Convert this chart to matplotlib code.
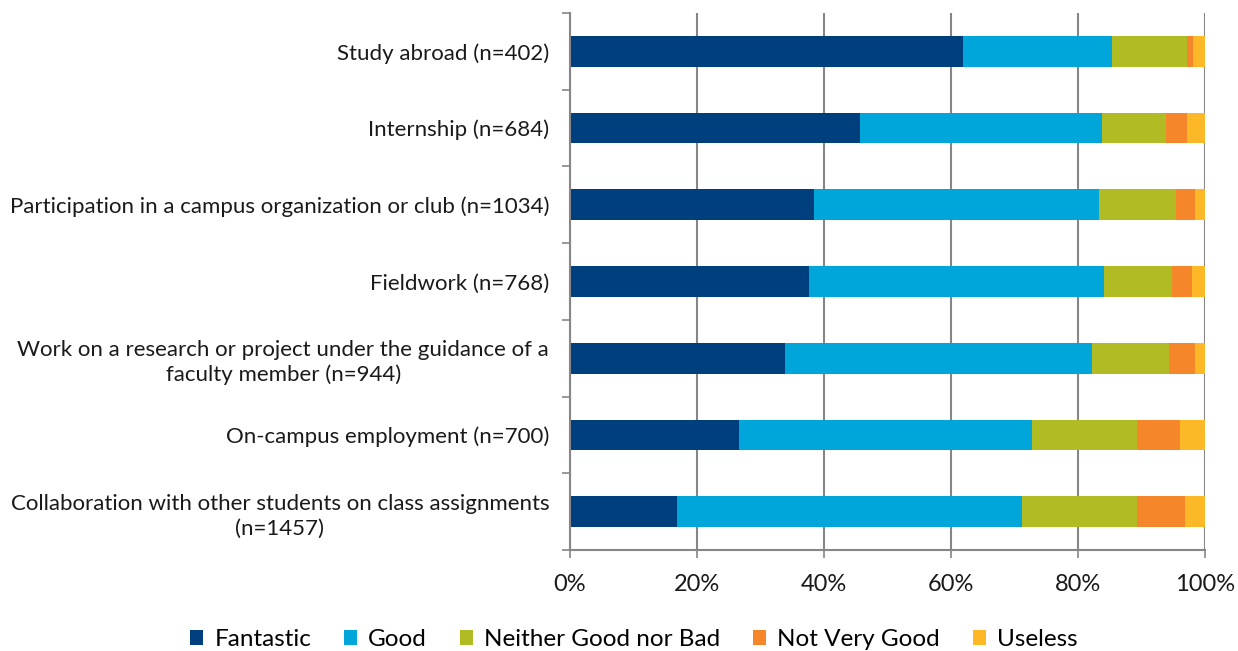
import numpy as np
import matplotlib
matplotlib.use("Agg")
import matplotlib.pyplot as plt

plt.rcParams["font.family"] = ["Lato", "DejaVu Sans"]

categories = [
    "Study abroad (n=402)",
    "Internship (n=684)",
    "Participation in a campus organization or club (n=1034)",
    "Fieldwork (n=768)",
    "Work on a research or project under the guidance of a\nfaculty member (n=944)",
    "On-campus employment (n=700)",
    "Collaboration with other students on class assignments\n(n=1457)",
]
labels = ["Fantastic", "Good", "Neither Good nor Bad", "Not Very Good", "Useless"]
colors = ["#003F7D", "#00A6DA", "#B1BB23", "#F5862A", "#FDB827"]

fantastic = [61.9, 45.6, 38.5, 37.6, 33.8, 26.6, 16.8]
good      = [23.5, 38.2, 44.8, 46.5, 48.4, 46.2, 54.4]
neither   = [11.8, 10.0, 12.1, 10.7, 12.1, 16.5, 18.1]
not_good  = [0.9,  3.4,  3.0,  3.2,  4.1,  6.8,  7.5]
useless   = [1.9,  2.8,  1.6,  2.0,  1.6,  3.9,  3.2]
series = [fantastic, good, neither, not_good, useless]

fig = plt.figure(figsize=(12.38, 6.51), dpi=100)
ax = fig.add_axes([570 / 1238, 1 - 550 / 651, 635 / 1238, 537 / 651])

y = np.arange(len(categories))
left = np.zeros(len(categories))
for vals, lab, col in zip(series, labels, colors):
    v = np.array(vals)
    ax.barh(y, v, left=left, height=0.4, color=col, label=lab, edgecolor="none")
    left += v

ax.set_ylim(len(categories) - 0.5, -0.5)
ax.set_xlim(0, 100)
ax.set_yticks(y)
ax.set_yticklabels(categories, fontsize=16, color="#1a1a1a", multialignment="center",
                   linespacing=1.3)
ax.set_yticks(np.arange(-0.5, len(categories)), minor=True)
ax.tick_params(axis="y", which="major", length=0, pad=15)
ax.tick_params(axis="y", which="minor", length=6, color="#868686", width=1.2)
ax.set_xticks(np.arange(0, 101, 20))
ax.set_xticklabels([f"{v}%" for v in range(0, 101, 20)], fontsize=17, color="#1a1a1a")
ax.tick_params(axis="x", length=6, color="#868686", width=1.2, pad=11)
ax.grid(axis="x", color="#868686", linewidth=1.5)
ax.set_axisbelow(True)
for s in ("top", "right"):
    ax.spines[s].set_visible(False)
for s in ("left", "bottom"):
    ax.spines[s].set_color("#868686")
    ax.spines[s].set_linewidth(1.5)

fig.legend(loc="lower center", bbox_to_anchor=(0.512, -0.032), ncol=5, frameon=False,
           fontsize=17.5, handlelength=0.55, handleheight=0.6, handletextpad=0.45,
           columnspacing=1.35)

fig.savefig("out.png", dpi=100)
